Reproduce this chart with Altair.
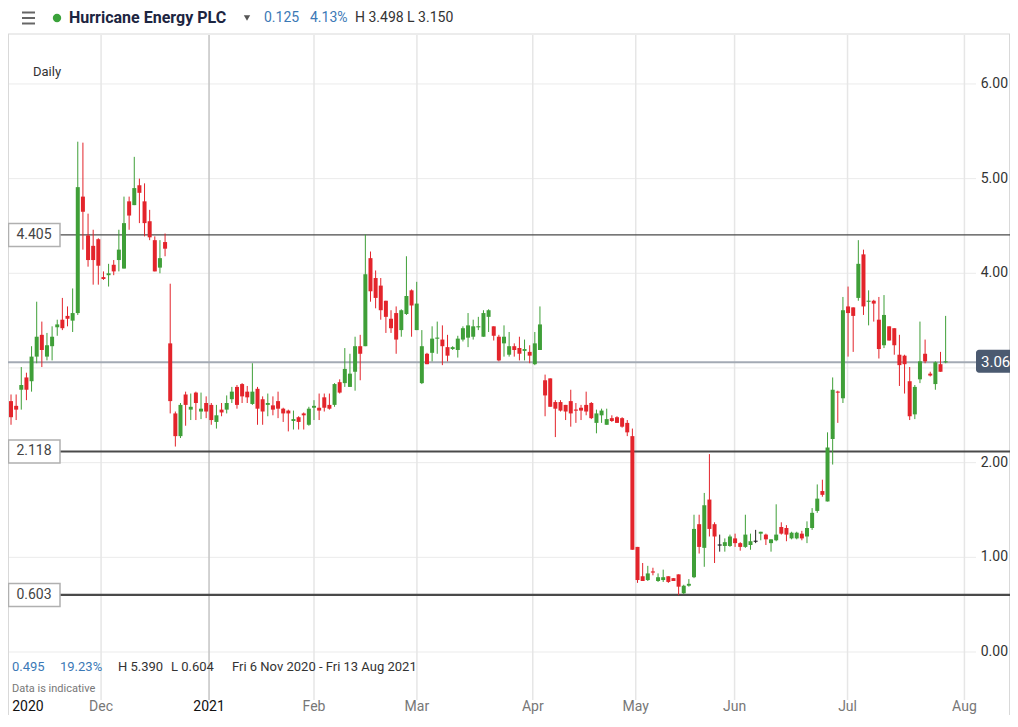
import altair as alt
import pandas as pd

# ---------------- data ----------------
opens = [2.65,2.60,2.77,2.90,2.86,3.12,3.35,3.12,3.23,3.43,3.51,3.55,3.50,3.58,4.81,4.40,4.29,4.36,3.96,3.98,
         4.09,4.14,4.05,4.76,4.72,4.93,4.76,4.55,4.35,4.06,4.33,3.26,2.52,2.28,2.72,2.56,2.74,2.54,2.63,2.61,
         2.43,2.56,2.56,2.67,2.80,2.83,2.75,2.62,2.78,2.67,2.61,2.605,2.65,2.57,2.55,2.44,2.48,2.52,2.40,2.58,
         2.58,2.69,2.61,2.61,2.85,2.84,2.80,2.96,3.23,3.23,4.16,3.95,3.87,3.71,3.52,3.58,3.40,3.57,3.82,3.40,
         2.84,3.15,3.16,3.31,3.30,3.22,3.20,3.19,3.30,3.32,3.33,3.43,3.33,3.54,3.44,3.33,3.26,3.14,3.23,3.21,
         3.18,3.17,3.04,3.19,2.87,2.89,2.64,2.64,2.61,2.65,2.56,2.58,2.61,2.63,2.42,2.50,2.40,2.47,2.48,2.47,
         2.42,2.28,1.11,0.80,0.76,0.85,0.75,0.76,0.80,0.78,0.82,0.62,0.70,0.79,1.35,1.10,1.61,1.35,1.13,1.12,
         1.12,1.20,1.15,1.11,1.13,1.17,1.25,1.24,1.15,1.18,1.32,1.31,1.20,1.20,1.25,1.22,1.31,1.49,1.70,1.59,
         2.25,2.75,2.68,3.65,3.64,3.74,4.20,3.70,3.71,3.51,3.24,3.44,3.42,3.14,3.13,2.86,2.51,2.88,3.15,2.94,
         2.83,3.04,3.06]
highs = [2.72,2.72,3.01,2.95,3.23,3.70,3.49,3.37,3.44,3.51,3.74,3.65,3.84,5.39,5.38,4.63,4.46,4.37,4.02,4.10,
         4.14,4.46,4.81,4.81,5.23,5.00,4.95,4.67,4.39,4.35,4.42,3.89,2.54,2.63,2.75,2.73,2.75,2.74,2.70,2.63,
         2.61,2.63,2.71,2.80,2.82,2.84,2.81,3.05,2.80,2.70,2.73,2.70,2.75,2.58,2.56,2.55,2.49,2.53,2.59,2.66,
         2.73,2.73,2.73,2.84,2.88,3.21,3.15,3.33,3.35,4.41,4.23,4.03,3.95,3.71,3.61,3.65,3.62,4.18,3.83,3.91,
         3.40,3.16,3.44,3.49,3.45,3.35,3.23,3.34,3.44,3.58,3.51,3.54,3.61,3.62,3.44,3.35,3.45,3.38,3.26,3.33,
         3.30,3.24,3.38,3.65,2.93,2.89,2.66,2.66,2.61,2.77,2.63,2.61,2.75,2.64,2.56,2.57,2.57,2.50,2.49,2.48,
         2.45,2.36,1.11,0.94,0.91,0.89,0.83,0.87,0.80,0.78,0.82,0.71,0.77,1.45,1.45,1.68,2.09,1.37,1.24,1.20,
         1.24,1.25,1.16,1.45,1.25,1.29,1.27,1.25,1.19,1.56,1.37,1.34,1.27,1.27,1.28,1.38,1.52,1.77,1.82,2.32,
         2.90,2.76,3.75,3.86,3.64,4.35,4.25,3.82,3.72,3.75,3.77,3.44,3.42,3.35,3.14,3.01,2.82,3.49,3.30,2.96,
         3.07,3.17,3.55]
lows = [2.40,2.45,2.56,2.66,2.75,3.05,3.01,3.08,3.08,3.34,3.40,3.44,3.38,3.56,4.25,4.07,3.88,3.88,3.93,3.86,
        3.98,4.02,4.05,4.46,4.72,4.53,4.39,4.35,4.02,4.00,4.18,2.52,2.17,2.26,2.39,2.45,2.45,2.46,2.47,2.40,
        2.36,2.49,2.52,2.63,2.57,2.63,2.63,2.61,2.40,2.40,2.49,2.50,2.47,2.43,2.33,2.35,2.35,2.35,2.39,2.45,
        2.45,2.54,2.56,2.59,2.73,2.80,2.80,2.76,2.87,3.23,3.70,3.63,3.51,3.37,3.37,3.15,3.33,3.56,3.33,3.40,
        2.83,3.04,3.07,3.15,3.03,3.07,3.19,3.11,3.28,3.22,3.30,3.40,3.33,3.38,3.29,3.07,3.12,3.12,3.12,3.08,
        3.08,3.05,3.03,3.19,2.49,2.59,2.27,2.54,2.45,2.38,2.42,2.45,2.50,2.46,2.31,2.42,2.40,2.43,2.42,2.37,
        2.28,1.08,0.73,0.75,0.75,0.81,0.74,0.74,0.73,0.75,0.60,0.61,0.69,0.78,1.04,0.90,1.22,0.94,1.06,1.06,
        1.11,1.11,1.07,1.10,1.08,1.15,1.18,1.13,1.06,1.17,1.24,1.17,1.19,1.19,1.18,1.15,1.29,1.47,1.64,1.59,
        1.98,2.42,2.63,3.12,3.17,3.71,3.56,3.45,3.49,3.10,3.21,3.29,3.14,2.81,2.73,2.45,2.46,2.84,3.05,2.91,
        2.77,2.96,3.05]
closes = [2.48,2.56,2.82,2.77,3.12,3.33,3.19,3.24,3.33,3.46,3.42,3.52,3.58,4.91,4.65,4.14,4.14,4.08,3.94,4.00,
          4.02,4.25,4.53,4.61,4.90,4.85,4.53,4.38,4.02,4.16,4.26,2.65,2.28,2.61,2.61,2.59,2.63,2.57,2.54,2.45,
          2.50,2.53,2.63,2.75,2.61,2.70,2.69,2.75,2.57,2.54,2.63,2.56,2.57,2.52,2.52,2.46,2.43,2.50,2.57,2.60,
          2.55,2.58,2.57,2.83,2.74,2.99,2.94,3.23,3.15,3.99,3.81,3.74,3.61,3.54,3.42,3.30,3.61,3.76,3.66,3.68,
          3.23,3.04,3.31,3.32,3.23,3.13,3.22,3.31,3.42,3.45,3.44,3.44,3.58,3.61,3.34,3.08,3.33,3.23,3.19,3.15,
          3.20,3.13,3.26,3.46,2.71,2.59,2.57,2.55,2.54,2.52,2.55,2.55,2.54,2.47,2.52,2.55,2.46,2.44,2.42,2.38,
          2.32,1.08,0.76,0.75,0.83,0.84,0.79,0.79,0.74,0.75,0.69,0.70,0.72,1.30,1.11,1.55,1.30,1.22,1.13,1.16,
          1.22,1.15,1.11,1.24,1.17,1.17,1.27,1.19,1.19,1.24,1.25,1.24,1.26,1.26,1.20,1.31,1.47,1.62,1.66,2.16,
          2.77,2.74,3.61,3.58,3.55,4.10,3.65,3.71,3.68,3.20,3.56,3.29,3.24,3.03,3.04,2.49,2.80,3.07,3.07,2.92,
          3.06,2.96,3.07]

tick_pos = [3.3, 17.54, 38.56, 59.0, 79.04, 101.6, 121.65, 140.9, 162.9, 185.66]
tick_lab = ["2020", "Dec", "2021", "Feb", "Mar", "Apr", "May", "Jun", "Jul", "Aug"]
price_ticks = [0, 1, 2, 3, 4, 5, 6]
price_labels_shown = [0, 1, 2, 4, 5, 6]   # 3.00 is hidden behind the current-price tag
levels = [4.405, 2.118, 0.603]
level_labels = ["4.405", "2.118", "0.603"]
last_price = 3.06

# ---------------- styling ----------------
W, H = 1002, 665
GREEN, RED, FLAT = "#3f9f38", "#e3242b", "#222222"
FONT = "Roboto"
PX_PER_UNIT = 94.67
BLUE = "#3b79b6"
HY = -17  # header baseline row (pixels above the plot)

xs = alt.Scale(domain=[0.3856, 193.56], nice=False, zero=False)
ys = alt.Scale(domain=[-0.507, 6.517], nice=False, zero=False)

n = len(opens)
df = pd.DataFrame({"idx": list(range(n)), "o": opens, "h": highs, "l": lows, "c": closes})
df["dir"] = ["up" if c > o else ("down" if c < o else "flat") for o, c in zip(df.o, df.c)]
lo = df[["o", "c"]].min(axis=1)
hi = df[["o", "c"]].max(axis=1)
mid = (lo + hi) / 2
thin = (hi - lo) < 0.012
df["bl"] = lo.where(~thin, mid - 0.006)
df["bh"] = hi.where(~thin, mid + 0.006)

color = alt.Color("dir:N", scale=alt.Scale(domain=["up", "down", "flat"], range=[GREEN, RED, FLAT]), legend=None)
one = pd.DataFrame({"a": [0]})

# grid
hgrid = alt.Chart(pd.DataFrame({"v": price_ticks})).mark_rule(color="#ebebeb", strokeWidth=1).encode(
    y=alt.Y("v:Q", scale=ys, axis=None), x=alt.value(0), x2=alt.value(968))
vgrid_m = alt.Chart(pd.DataFrame({"p": [p for p, l in zip(tick_pos[1:], tick_lab[1:]) if l != "2021"]})).mark_rule(
    strokeWidth=1.5, color="#e6e6e6").encode(x=alt.X("p:Q", scale=xs, axis=None), y=alt.value(0), y2=alt.value(H))
vgrid_y = alt.Chart(pd.DataFrame({"p": [p for p, l in zip(tick_pos, tick_lab) if l == "2021"]})).mark_rule(
    strokeWidth=1.5, color="#c4c4c4").encode(x=alt.X("p:Q", scale=xs, axis=None), y=alt.value(0), y2=alt.value(H))

# borders
top_line = alt.Chart(one).mark_rule(color="#d9d9d9").encode(x=alt.value(0), x2=alt.value(W), y=alt.value(-1))
left_line = alt.Chart(one).mark_rule(color="#d9d9d9").encode(x=alt.value(0.5), y=alt.value(-1), y2=alt.value(H + 50))
right_line = alt.Chart(one).mark_rule(color="#d9d9d9").encode(x=alt.value(W - 0.5), y=alt.value(-1), y2=alt.value(H + 50))

# current price line
cur_line = alt.Chart(pd.DataFrame({"v": [last_price]})).mark_rule(color="#a3aab4", strokeWidth=2).encode(
    y=alt.Y("v:Q", scale=ys, axis=None), x=alt.value(0), x2=alt.value(968))

# level lines and boxes
ldf = pd.DataFrame({"v": levels, "t": level_labels})
ldf["yl"] = ldf.v - 11.5 / PX_PER_UNIT
ldf["yh"] = ldf.v + 11.5 / PX_PER_UNIT
level_thin = alt.Chart(ldf.iloc[[0]]).mark_rule(color="#4a4a4a", strokeWidth=1.2).encode(
    y=alt.Y("v:Q", scale=ys, axis=None), x=alt.value(52), x2=alt.value(W))
level_thick = alt.Chart(ldf.iloc[1:]).mark_rule(color="#4a4a4a", strokeWidth=2.2).encode(
    y=alt.Y("v:Q", scale=ys, axis=None), x=alt.value(52), x2=alt.value(W))
level_box = alt.Chart(ldf).mark_rect(fill="white", stroke="#b0b0b0", strokeWidth=1.5).encode(
    y=alt.Y("yl:Q", scale=ys, axis=None), y2="yh:Q", x=alt.value(0.5), x2=alt.value(52))
level_txt = alt.Chart(ldf).mark_text(font=FONT, fontSize=14, color="#444", align="center", baseline="middle").encode(
    y=alt.Y("v:Q", scale=ys, axis=None), x=alt.value(26), text="t:N")

# candles
wicks = alt.Chart(df).mark_rule(strokeWidth=1).encode(
    x=alt.X("idx:Q", scale=xs, axis=None), y=alt.Y("l:Q", scale=ys, axis=None), y2="h:Q", color=color)
bodies = alt.Chart(df).mark_bar(size=4).encode(
    x=alt.X("idx:Q", scale=xs, axis=None), y=alt.Y("bl:Q", scale=ys, axis=None), y2="bh:Q", color=color)

# right price labels
plab = pd.DataFrame({"v": price_labels_shown})
plab["t"] = plab.v.map(lambda v: f"{v:.2f}")
price_txt = alt.Chart(plab).mark_text(font=FONT, fontSize=14, color="#333", align="right", baseline="middle").encode(
    y=alt.Y("v:Q", scale=ys, axis=None), x=alt.value(W - 2), text="t:N")

# current price tag
cdf = pd.DataFrame({"v": [last_price], "t": [f"{last_price:.2f}"]})
cdf["yl"] = cdf.v - 11.5 / PX_PER_UNIT + 0.01
cdf["yh"] = cdf.v + 11.5 / PX_PER_UNIT + 0.01
cur_box = alt.Chart(cdf).mark_rect(fill="#4b5a70", cornerRadius=3).encode(
    y=alt.Y("yl:Q", scale=ys, axis=None), y2="yh:Q", x=alt.value(968), x2=alt.value(1010))
cur_txt = alt.Chart(cdf).mark_text(font=FONT, fontSize=15, color="white", align="left", baseline="middle").encode(
    y=alt.Y("v:Q", scale=ys, axis=None), x=alt.value(973), text="t:N")

# x labels
xdf = pd.DataFrame({"p": tick_pos, "lab": tick_lab})
yr = xdf[xdf.lab.isin(["2020", "2021"])]
mo = xdf[~xdf.lab.isin(["2020", "2021"])]
x_year = alt.Chart(yr).mark_text(font=FONT, fontSize=14, color="#111", align="center", baseline="middle").encode(
    x=alt.X("p:Q", scale=xs, axis=None), y=alt.value(672), text="lab:N")
x_mon = alt.Chart(mo).mark_text(font=FONT, fontSize=14, color="#777", align="center", baseline="middle").encode(
    x=alt.X("p:Q", scale=xs, axis=None), y=alt.value(672), text="lab:N")


def label(t, x, y, size=14, col="#333", weight="normal", align="left"):
    return alt.Chart(pd.DataFrame({"t": [t]})).mark_text(
        font=FONT, fontSize=size, color=col, fontWeight=weight, align=align, baseline="middle").encode(
        x=alt.value(x), y=alt.value(y), text="t:N")


# header
burger = [alt.Chart(one).mark_rule(color="#666", strokeWidth=2).encode(
    x=alt.value(14), x2=alt.value(27), y=alt.value(HY + dy)) for dy in (-5.5, 0, 5.5)]
dot = alt.Chart(one).mark_circle(size=70, color="#3aa23a", opacity=1).encode(x=alt.value(49), y=alt.value(HY))
tri = alt.Chart(one).mark_point(filled=True, shape="triangle-down", size=40, color="#555", opacity=1).encode(
    x=alt.value(239), y=alt.value(HY))

texts = [
    label("Hurricane Energy PLC", 61, HY, size=16, col="#1c2541", weight="bold"),
    label("0.125", 256, HY, col=BLUE),
    label("4.13%", 302, HY, col=BLUE),
    label("H 3.498 L 3.150", 347, HY, col="#333"),
    label("Daily", 25, 37, size=13, col="#333"),
    label("0.495", 4, 632, size=13, col=BLUE),
    label("19.23%", 52, 632, size=13, col=BLUE),
    label("H 5.390", 110, 632, size=13, col="#333"),
    label("L 0.604", 163, 632, size=13, col="#333"),
    label("Fri 6 Nov 2020 - Fri 13 Aug 2021", 224, 632, size=13, col="#333"),
    label("Data is indicative", 4, 654, size=11, col="#777"),
]

chart = alt.layer(
    hgrid, vgrid_m, vgrid_y, top_line, left_line, right_line,
    cur_line, level_thin, level_thick, wicks, bodies,
    level_box, level_txt, price_txt, cur_box, cur_txt, x_year, x_mon,
    *burger, dot, tri, *texts
).properties(
    width=W, height=H,
    padding={"left": 0, "top": 27, "right": 0, "bottom": 15},
    autosize=alt.AutoSizeParams(type="none"),
).configure_view(stroke=None)

chart.save("out.html", embed_options={"renderer": "svg", "actions": False})
